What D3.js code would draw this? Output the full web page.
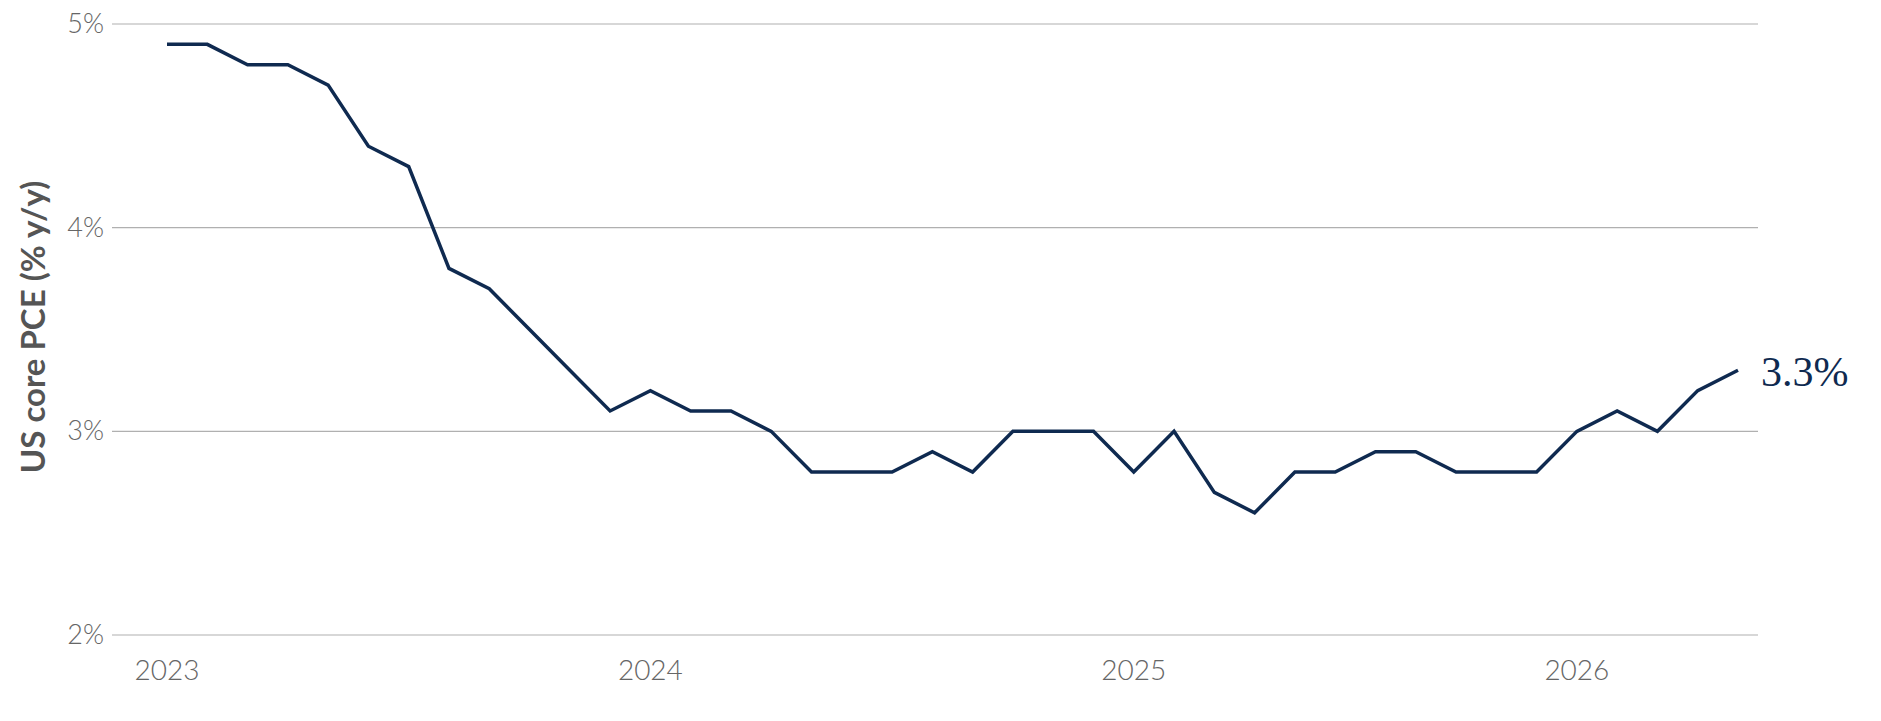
<!DOCTYPE html>
<html><head><meta charset="utf-8">
<script src="https://cdn.jsdelivr.net/npm/d3@7"></script>
<style>body{margin:0;background:#fff}</style></head>
<body><svg id="c" width="1881" height="721"></svg>
<script>
const values = [4.9,4.9,4.8,4.8,4.7,4.4,4.3,3.8,3.7,3.5,3.3,3.1,3.2,3.1,3.1,3.0,2.8,2.8,2.8,2.9,2.8,3.0,3.0,3.0,2.8,3.0,2.7,2.6,2.8,2.8,2.9,2.9,2.8,2.8,2.8,3.0,3.1,3.0,3.2,3.3];
const yTicks = [2,3,4,5];
const xTickIdx = [0,12,24,35];
const xTickLabels = ["2023","2024","2025","2026"];
const endLabel = "3.3%";
const yTitle = "US core PCE (% y/y)";

const svg = d3.select("#c");
const x = d3.scaleLinear().domain([0, values.length-1]).range([167, 1738]);
const y = d3.scaleLinear().domain([2,5]).range([635, 24]);

svg.append("g").selectAll("line").data(yTicks).join("line")
  .attr("x1",112).attr("x2",1758).attr("y1",d=>y(d)).attr("y2",d=>y(d))
  .attr("stroke","#b0b0b0").attr("stroke-width",1.2);
svg.append("g").selectAll("text").data(yTicks).join("text")
  .attr("x",104).attr("y",d=>y(d)+9).attr("text-anchor","end")
  .attr("font-family","Lato, sans-serif").attr("font-weight",300).attr("font-size",27)
  .attr("fill","#666").text(d=>d+"%");
svg.append("g").selectAll("text").data(xTickIdx).join("text")
  .attr("x",d=>x(d)).attr("y",680).attr("text-anchor","middle")
  .attr("font-family","Lato, sans-serif").attr("font-weight",300).attr("font-size",28)
  .attr("fill","#666").text((d,i)=>xTickLabels[i]);
svg.append("text").attr("transform","translate(45,327) rotate(-90)")
  .attr("text-anchor","middle").attr("font-family","Lato, sans-serif").attr("font-weight",700)
  .attr("font-size",33).attr("fill","#555").text(yTitle);
svg.append("path").datum(values)
  .attr("d", d3.line().x((d,i)=>x(i)).y(d=>y(d)))
  .attr("fill","none").attr("stroke","#0f2a50").attr("stroke-width",3.5).attr("stroke-linejoin","miter");
svg.append("text").attr("x",1761).attr("y",y(values[values.length-1])+16)
  .attr("font-family","Liberation Serif, serif").attr("font-size",42).attr("fill","#0f2a50").text(endLabel);
</script></body></html>
